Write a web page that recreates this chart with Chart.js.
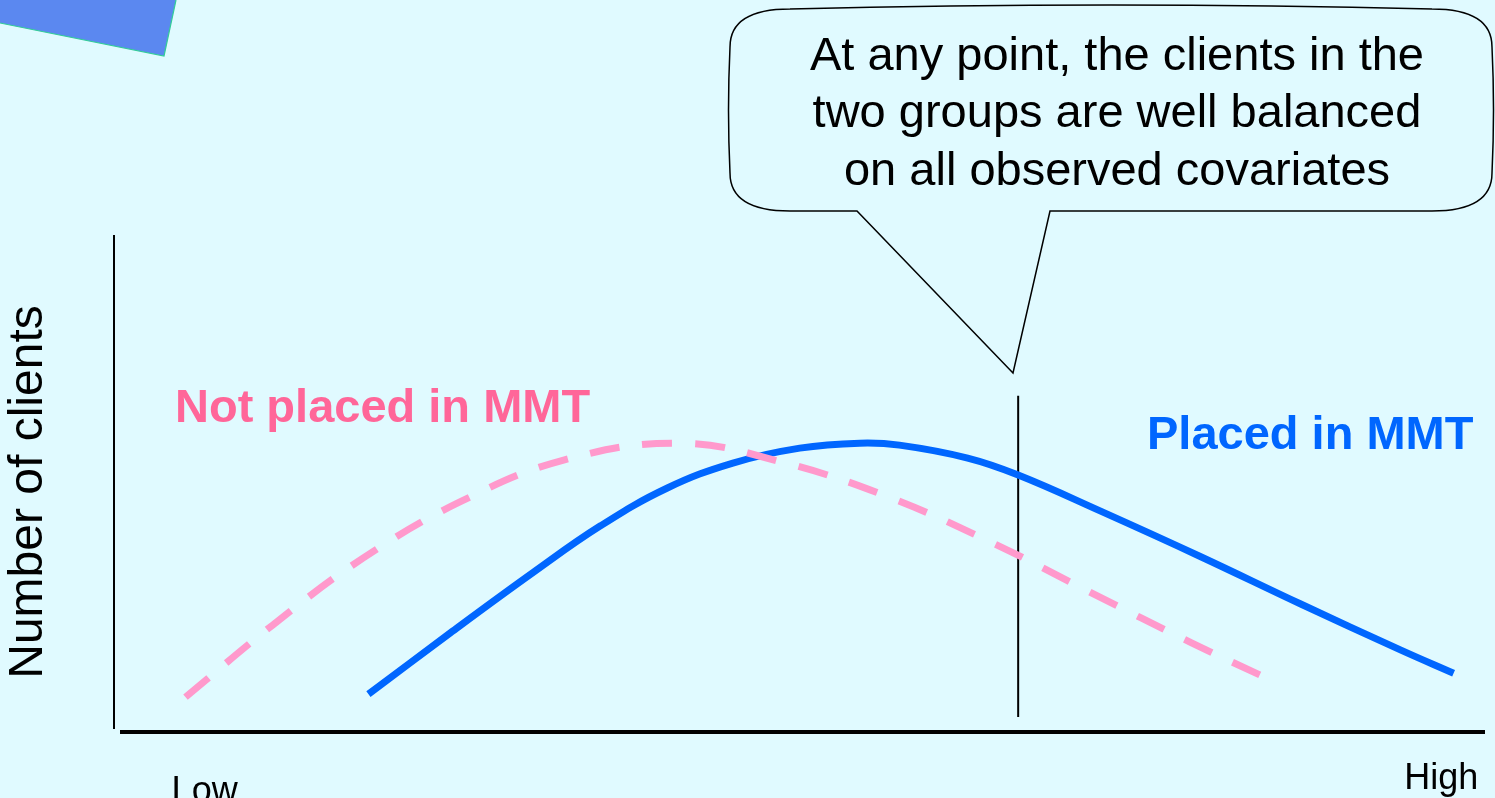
<!DOCTYPE html>
<html>
<head>
<meta charset="utf-8">
<script src="https://cdn.jsdelivr.net/npm/chart.js@4.4.1/dist/chart.umd.min.js"></script>
<style>
html,body{margin:0;padding:0;background:#E0FAFF;overflow:hidden}
#wrap{position:relative;width:1495px;height:798px}
</style>
</head>
<body>
<div id="wrap"><canvas id="c"></canvas></div>
<script>
// ---- data (x: propensity score, Low -> High; y: number of clients) ----
const notPlacedX = [4.8, 11.2, 17.8, 24.9, 32.5, 41.0, 48.5, 56.3, 63.9, 71.2, 78.5, 83.7];
const notPlacedY = [7.2, 21.7, 35.1, 46.4, 54.8, 58.2, 54.4, 47.4, 38.2, 28.1, 18.1, 11.4];
const placedX = [18.2, 24.2, 30.3, 35.2, 40.1, 44.9, 49.8, 54.2, 57.1, 62.1, 65.8, 71.8, 79.1, 86.5, 93.8, 97.7];
const placedY = [7.8, 20.1, 32.3, 41.6, 49.2, 54.2, 57.2, 58.2, 57.8, 55.2, 51.8, 44.6, 35.5, 25.9, 16.7, 12.0];
const dividerX = [65.8, 65.8];
const dividerY = [3.2, 67.7];
const tickLabels = ['Low', 'High'];
const tickValues = [6.2, 96.8];
const seriesNames = ['Not placed in MMT', 'Placed in MMT'];
const yTitle = 'Number of clients';
const calloutLines = ['At any point, the clients in the', 'two groups are well balanced', 'on all observed covariates'];

const FONT = '"Liberation Sans", Arial, Helvetica, sans-serif';
const BG = '#E0FAFF';
const PINK = '#FF99CC';
const PINK_TXT = '#FF6699';
const BLUE = '#0066FF';

const pts = (xs, ys) => xs.map((x, i) => ({x, y: ys[i]}));

const decor = {
  id: 'decor',
  beforeDraw(chart) {
    const ctx = chart.ctx;
    ctx.save();
    ctx.fillStyle = BG;
    ctx.fillRect(0, 0, chart.width, chart.height);
    // slide decoration top-left
    ctx.beginPath();
    ctx.moveTo(0, 0); ctx.lineTo(176, 0); ctx.lineTo(164, 56); ctx.lineTo(0, 23); ctx.closePath();
    ctx.fillStyle = '#5B88F0';
    ctx.fill();
    ctx.beginPath();
    ctx.moveTo(176, 0); ctx.lineTo(164, 56); ctx.lineTo(0, 23);
    ctx.strokeStyle = '#33CC99'; ctx.lineWidth = 1.2; ctx.stroke();
    ctx.restore();
  },
  beforeDatasetsDraw(chart) {
    const ctx = chart.ctx, a = chart.chartArea;
    ctx.save();
    ctx.strokeStyle = '#000';
    ctx.lineCap = 'butt';
    ctx.lineWidth = 4;
    ctx.beginPath(); ctx.moveTo(a.left, a.bottom - 1); ctx.lineTo(a.right, a.bottom - 1); ctx.stroke();
    ctx.lineWidth = 2;
    ctx.beginPath(); ctx.moveTo(a.left - 6, a.top); ctx.lineTo(a.left - 6, a.bottom - 4); ctx.stroke();
    ctx.restore();
  },
  afterDraw(chart) {
    const ctx = chart.ctx, xs = chart.scales.x;
    ctx.save();
    // series labels
    ctx.textBaseline = 'alphabetic';
    ctx.textAlign = 'left';
    ctx.font = 'bold 47px ' + FONT;
    ctx.fillStyle = PINK_TXT;
    ctx.fillText(seriesNames[0], 175, 422);
    ctx.fillStyle = BLUE;
    ctx.fillText(seriesNames[1], 1147, 449);
    // y title
    ctx.save();
    ctx.translate(42, 492);
    ctx.rotate(-Math.PI / 2);
    ctx.textAlign = 'center';
    ctx.font = '48px ' + FONT;
    ctx.fillStyle = '#000';
    ctx.fillText(yTitle, 0, 0);
    ctx.restore();
    // tick labels
    ctx.font = '36px ' + FONT;
    ctx.fillStyle = '#000';
    ctx.textAlign = 'center';
    ctx.fillText(tickLabels[0], xs.getPixelForValue(tickValues[0]), 802);
    ctx.fillText(tickLabels[1], xs.getPixelForValue(tickValues[1]), 789);
    // callout
    const L = 730, T = 9, R = 1492, B = 211, rx = 60, ry = 38;
    ctx.beginPath();
    ctx.moveTo(L + rx, T);
    ctx.quadraticCurveTo((L + R) / 2, T - 8, R - rx, T);
    ctx.quadraticCurveTo(R, T, R, T + ry);
    ctx.quadraticCurveTo(R + 3, (T + B) / 2, R, B - ry);
    ctx.quadraticCurveTo(R, B, R - rx, B);
    ctx.lineTo(1050, B);
    ctx.lineTo(1013, 373);
    ctx.lineTo(857, B);
    ctx.lineTo(L + rx, B);
    ctx.quadraticCurveTo(L, B, L, B - ry);
    ctx.quadraticCurveTo(L - 3, (T + B) / 2, L, T + ry);
    ctx.quadraticCurveTo(L, T, L + rx, T);
    ctx.closePath();
    ctx.fillStyle = BG;
    ctx.fill();
    ctx.strokeStyle = '#000';
    ctx.lineWidth = 1.5;
    ctx.stroke();
    ctx.font = '47px ' + FONT;
    ctx.fillStyle = '#000';
    ctx.textAlign = 'center';
    const bl = [70, 127, 185];
    calloutLines.forEach((t, i) => ctx.fillText(t, 1117, bl[i]));
    ctx.restore();
  }
};

new Chart(document.getElementById('c'), {
  type: 'line',
  data: {
    datasets: [
      {
        label: seriesNames[0],
        data: pts(notPlacedX, notPlacedY),
        borderColor: PINK,
        borderWidth: 7,
        borderDash: [30, 23],
        borderCapStyle: 'butt',
        pointRadius: 0,
        tension: 0.4,
        fill: false,
        order: 0
      },
      {
        label: seriesNames[1],
        data: pts(placedX, placedY),
        borderColor: BLUE,
        borderWidth: 7,
        borderCapStyle: 'butt',
        pointRadius: 0,
        tension: 0.4,
        fill: false,
        order: 1
      },
      {
        label: 'divider',
        data: pts(dividerX, dividerY),
        borderColor: '#000',
        borderWidth: 2,
        pointRadius: 0,
        fill: false,
        order: 2
      }
    ]
  },
  options: {
    responsive: true,
    maintainAspectRatio: false,
    animation: false,
    layout: { padding: { left: 120, right: 10, top: 235, bottom: 65 } },
    scales: {
      x: { type: 'linear', min: 0, max: 100, display: false },
      y: { type: 'linear', min: 0, max: 100, display: false }
    },
    plugins: {
      legend: { display: false },
      tooltip: { enabled: false },
      title: { display: false }
    },
    events: []
  },
  plugins: [decor]
});
</script>
</body>
</html>
